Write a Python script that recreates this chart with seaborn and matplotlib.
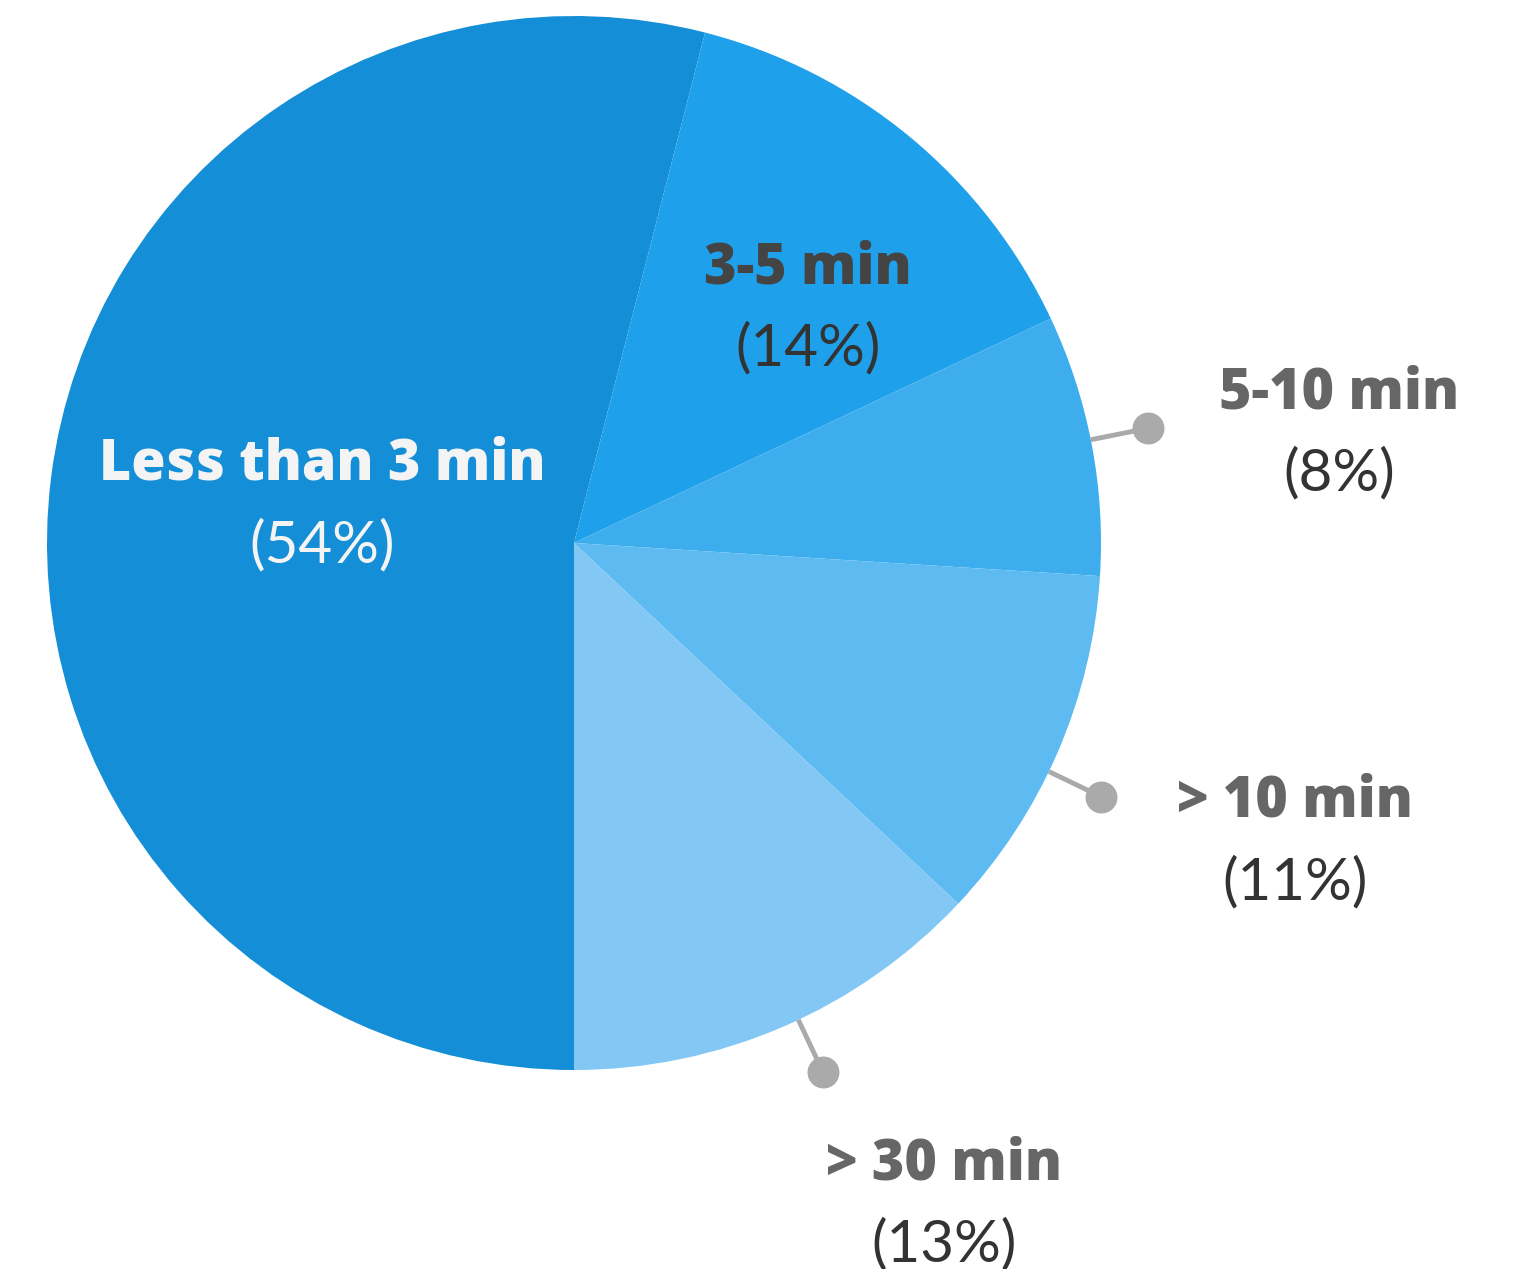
import numpy as np
import matplotlib
matplotlib.use("Agg")
import matplotlib.pyplot as plt
import seaborn as sns

# data
categories = ["Less than 3 min", "3-5 min", "5-10 min", "> 10 min", "> 30 min"]
shares = [54, 14, 8, 11, 13]
colors = ["#148ED6", "#1FA0EA", "#3DADEE", "#5DBBF2", "#83C8F5"]

# label layout (data units, pie radius = 1)
label_pos = [(-0.478, 0.148), (0.444, 0.520), (1.452, 0.283), (1.368, -0.492), (0.702, -1.180)]
pct_gap = 0.152
label_colors = ["#F4F4F4", "#444444", "#666666", "#666666", "#666666"]
pct_colors = ["#F4F4F4", "#333333", "#333333", "#333333", "#333333"]
outside = [False, False, True, True, True]
leader_shift = [0, 0, 0.5, -2.3, 1.8]  # degrees off the slice middle

sns.set_theme(style="white")
plt.rcParams["font.family"] = ["Open Sans", "DejaVu Sans"]

fig = plt.figure(figsize=(15.31, 12.69), dpi=100)
ax = fig.add_axes([0, 0, 1, 1])

wedges, _ = ax.pie(shares, colors=colors, startangle=270, counterclock=False,
                   radius=1, center=(0, 0), wedgeprops=dict(linewidth=0))

for i, w in enumerate(wedges):
    x, y = label_pos[i]
    ax.text(x, y, categories[i], ha="center", va="center", fontsize=40,
            fontweight="heavy", color=label_colors[i],
            family=["Open Sans", "DejaVu Sans"])
    ax.text(x, y - pct_gap, f"({shares[i]}%)", ha="center", va="center",
            fontsize=42, fontweight="normal", color=pct_colors[i],
            family=["Lato", "DejaVu Sans"])
    if outside[i]:
        mid = np.deg2rad((w.theta1 + w.theta2) / 2 + leader_shift[i])
        ax.plot([np.cos(mid), 1.11 * np.cos(mid)], [np.sin(mid), 1.11 * np.sin(mid)],
                color="#AAAAAA", lw=3.5, solid_capstyle="butt", zorder=3)
        ax.plot(1.11 * np.cos(mid), 1.11 * np.sin(mid), "o", color="#AAAAAA",
                markersize=22, zorder=4)

ax.set_xlim(-574 / 527, (1531 - 574) / 527)
ax.set_ylim((543 - 1269) / 527, 543 / 527)
ax.set_aspect("auto")
ax.axis("off")

fig.savefig("out.png", dpi=100, facecolor="white")
